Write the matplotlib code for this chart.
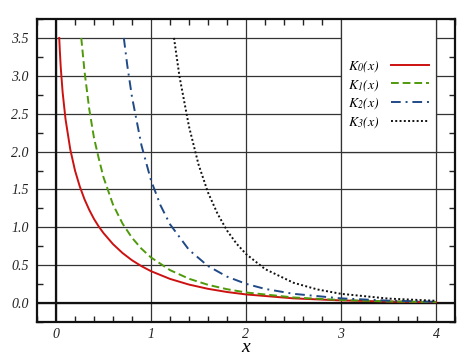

import matplotlib
matplotlib.use("Agg")
import matplotlib.pyplot as plt
from matplotlib.patches import Rectangle
from matplotlib.ticker import FormatStrFormatter, MultipleLocator

# values
k0_x = [0.034, 0.04, 0.05, 0.07, 0.1, 0.15, 0.2, 0.25, 0.3, 0.35, 0.4, 0.45, 0.5, 0.6, 0.7,
        0.8, 0.9, 1.0, 1.2, 1.4, 1.6, 1.8, 2.0, 2.5, 3.0, 3.5, 4.0]
k0_y = [3.50, 3.34, 3.11, 2.78, 2.43, 2.03, 1.75, 1.54, 1.37, 1.23, 1.11, 1.01, 0.924, 0.778, 0.661,
        0.565, 0.487, 0.421, 0.319, 0.244, 0.188, 0.146, 0.114, 0.062, 0.035, 0.020, 0.011]

k1_x = [0.266, 0.3, 0.35, 0.4, 0.45, 0.5, 0.6, 0.7, 0.8, 0.9, 1.0, 1.2, 1.4, 1.6, 1.8, 2.0,
        2.5, 3.0, 3.5, 4.0]
k1_y = [3.50, 3.06, 2.56, 2.18, 1.91, 1.66, 1.30, 1.05, 0.862, 0.717, 0.602, 0.435, 0.321, 0.241,
        0.183, 0.140, 0.074, 0.040, 0.022, 0.013]

k2_x = [0.714, 0.75, 0.8, 0.9, 1.0, 1.1, 1.2, 1.4, 1.6, 1.8, 2.0, 2.2, 2.5, 3.0, 3.5, 4.0]
k2_y = [3.50, 3.14, 2.72, 2.08, 1.62, 1.29, 1.04, 0.702, 0.489, 0.349, 0.254, 0.187, 0.122,
        0.062, 0.032, 0.017]

k3_x = [1.242, 1.3, 1.4, 1.5, 1.6, 1.7, 1.8, 1.9, 2.0, 2.2, 2.5, 2.75, 3.0, 3.5, 4.0]
k3_y = [3.50, 2.99, 2.33, 1.83, 1.46, 1.18, 0.958, 0.785, 0.648, 0.449, 0.268, 0.180, 0.122,
        0.059, 0.030]

labels = [r"$K_{\mathit{0}}(x)$", r"$K_{\mathit{1}}(x)$", r"$K_{\mathit{2}}(x)$", r"$K_{\mathit{3}}(x)$"]
x_ticks = [0, 1, 2, 3, 4]
y_ticks = [0.0, 0.5, 1.0, 1.5, 2.0, 2.5, 3.0, 3.5]

plt.rcParams["font.family"] = "serif"
plt.rcParams["font.serif"] = ["Liberation Serif", "DejaVu Serif"]
plt.rcParams["font.style"] = "italic"
plt.rcParams["mathtext.fontset"] = "stix"

fig = plt.figure(figsize=(4.74, 3.6), dpi=100)
ax = fig.add_axes([37 / 474, 1 - 322 / 360, (455 - 37) / 474, (322 - 19) / 360])

ax.set_xlim(-0.2, 4.2)
ax.set_ylim(-0.25, 3.75)
ax.set_xticks(x_ticks)
ax.set_yticks(y_ticks)
ax.yaxis.set_major_formatter(FormatStrFormatter("%.1f"))
ax.xaxis.set_minor_locator(MultipleLocator(0.2))
ax.yaxis.set_minor_locator(MultipleLocator(0.25))
ax.tick_params(which="both", direction="in", top=True, right=True, labelsize=10, colors="#222")
ax.tick_params(which="major", length=0, pad=6)
ax.tick_params(axis="x", which="major", pad=4)
ax.tick_params(which="minor", length=4, width=1.0)
for sp in ax.spines.values():
    sp.set_linewidth(1.6)
    sp.set_color("#111")

ax.grid(True, which="major", color="#333", linewidth=0.9)
ax.axhline(0, color="#111", linewidth=1.6, zorder=1.6)
ax.axvline(0, color="#111", linewidth=1.6, zorder=1.6)

# white legend panel between the x=3 and x=4 grid lines
ax.add_patch(Rectangle((3.0, 2.0), 1.0, 2.0, facecolor="white", edgecolor="#333",
                       linewidth=0.9, zorder=2))

ax.plot(k0_x, k0_y, color="#cc1111", linewidth=1.4, label=labels[0], zorder=3)
ax.plot(k1_x, k1_y, color="#4f9a0a", linewidth=1.4, linestyle=(0, (4, 2)), label=labels[1], zorder=3)
ax.plot(k2_x, k2_y, color="#1f4a87", linewidth=1.4, linestyle=(0, (5, 2.5, 1, 2.5)),
        label=labels[2], zorder=3)
ax.plot(k3_x, k3_y, color="#111", linewidth=1.4, linestyle=(0, (1, 1.2)), label=labels[3], zorder=3)

ax.legend(loc="center", bbox_to_anchor=(3.5, 2.76), bbox_transform=ax.transData, frameon=False,
          markerfirst=False, fontsize=10, handlelength=2.7, handletextpad=0.8, labelspacing=0.2,
          borderpad=0.2)

ax.set_xlabel("x", fontsize=14, labelpad=-1)

fig.savefig("out.png", dpi=100)
